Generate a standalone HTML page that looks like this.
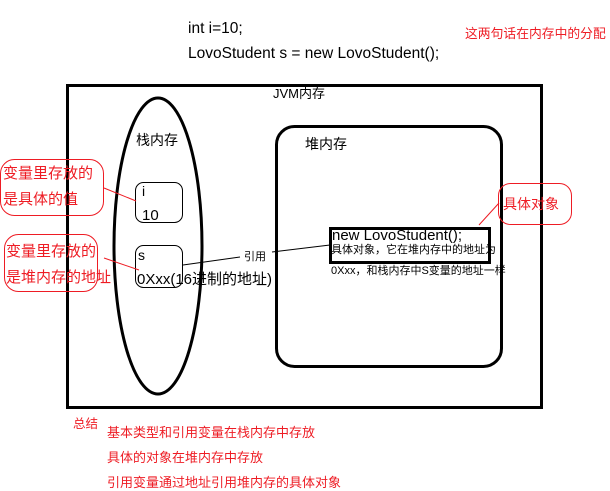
<!DOCTYPE html>
<html><head><meta charset="utf-8"><style>
body{margin:0;background:#fff;}
svg{display:block;font-family:"Liberation Sans","Noto Sans CJK SC",sans-serif;}
</style></head><body>
<svg width="610" height="491" viewBox="0 0 610 491" xmlns="http://www.w3.org/2000/svg">
<text x="188" y="33" font-size="15.5" fill="#000">int i=10;</text>
<text x="188" y="58" font-size="15.5" fill="#000">LovoStudent s = new LovoStudent();</text>
<text x="465" y="38" font-size="12.8" fill="#ee1c24">这两句话在内存中的分配</text>
<rect x="67.5" y="85.5" width="474" height="322" fill="none" stroke="#000" stroke-width="3"/>
<text x="273" y="98" font-size="13">JVM内存</text>
<ellipse cx="158" cy="246" rx="44" ry="148" fill="none" stroke="#000" stroke-width="3"/>
<text x="136" y="145" font-size="14">栈内存</text>
<rect x="276.5" y="126.5" width="225" height="240" rx="18" fill="none" stroke="#000" stroke-width="3"/>
<text x="305" y="149" font-size="14">堆内存</text>
<rect x="135.5" y="182.5" width="47" height="40" rx="8" fill="none" stroke="#000" stroke-width="1"/>
<text x="142" y="196" font-size="14">i</text>
<text x="142" y="220" font-size="15">10</text>
<rect x="135.5" y="245.5" width="47" height="42" rx="8" fill="none" stroke="#000" stroke-width="1"/>
<text x="138" y="260" font-size="14">s</text>
<text x="137" y="284" font-size="15">0Xxx(16进制的地址)</text>
<line x1="183" y1="265" x2="240" y2="257" stroke="#000"/>
<text x="244" y="260" font-size="11">引用</text>
<line x1="272" y1="252" x2="330" y2="245" stroke="#000"/>
<rect x="330.5" y="228.5" width="159" height="34" fill="none" stroke="#000" stroke-width="3"/>
<text x="332" y="240" font-size="15">new LovoStudent();</text>
<text x="331" y="253" font-size="11">具体对象，它在堆内存中的地址为</text>
<text x="331" y="274" font-size="11">0Xxx，和栈内存中S变量的地址一样</text>
<rect x="498.5" y="183.5" width="73" height="41" rx="12" fill="none" stroke="#ee1c24"/>
<text x="503" y="209" font-size="14" fill="#ee1c24">具体对象</text>
<line x1="479" y1="225" x2="499" y2="203" stroke="#ee1c24"/>
<rect x="0.5" y="159.5" width="103" height="56" rx="14" fill="none" stroke="#ee1c24"/>
<text x="3" y="178" font-size="15" fill="#ee1c24">变量里存放的</text>
<text x="3" y="204" font-size="15" fill="#ee1c24">是具体的值</text>
<line x1="104" y1="188" x2="136" y2="201" stroke="#ee1c24"/>
<rect x="4.5" y="234.5" width="93" height="57" rx="14" fill="none" stroke="#ee1c24"/>
<text x="6" y="256" font-size="15" fill="#ee1c24">变量里存放的</text>
<text x="6" y="282" font-size="15" fill="#ee1c24">是堆内存的地址</text>
<line x1="104" y1="258" x2="139" y2="270" stroke="#ee1c24"/>
<text x="73" y="428" font-size="12.5" fill="#ee1c24">总结</text>
<text x="107" y="437" font-size="13" fill="#ee1c24">基本类型和引用变量在栈内存中存放</text>
<text x="107" y="462" font-size="13" fill="#ee1c24">具体的对象在堆内存中存放</text>
<text x="107" y="487" font-size="13" fill="#ee1c24">引用变量通过地址引用堆内存的具体对象</text>
</svg>
</body></html>
